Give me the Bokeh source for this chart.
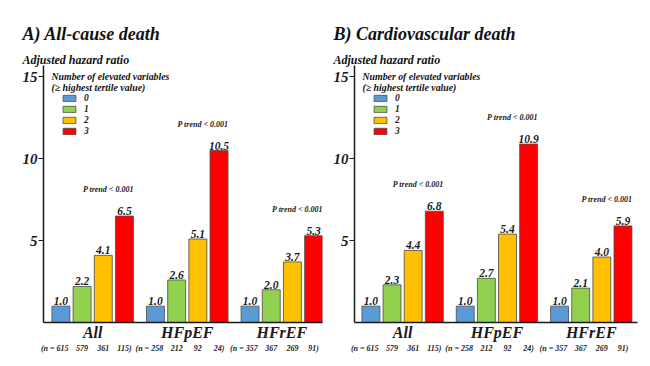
from bokeh.plotting import figure
from bokeh.models import (ColumnDataSource, FixedTicker, CustomJSTickFormatter,
                          LinearAxis, Label, Range1d, Title)
from bokeh.layouts import row
from bokeh.core.properties import value
from bokeh.embed import file_html
from bokeh.resources import INLINE

# ---------------- data ----------------
groups = ["All", "HFpEF", "HFrEF"]
levels = ["0", "1", "2", "3"]
colors = ["#5B9BD5", "#92D050", "#FFC000", "#FF0000"]

# A) All-cause death: adjusted HR by number of elevated variables
A_HR_0 = [1.0, 1.0, 1.0]
A_HR_1 = [2.2, 2.6, 2.0]
A_HR_2 = [4.1, 5.1, 3.7]
A_HR_3 = [6.5, 10.5, 5.3]

# B) Cardiovascular death
B_HR_0 = [1.0, 1.0, 1.0]
B_HR_1 = [2.3, 2.7, 2.1]
B_HR_2 = [4.4, 5.4, 4.0]
B_HR_3 = [6.8, 10.9, 5.9]

# patients per subgroup (0, 1, 2, 3 elevated variables)
n_all = [615, 579, 361, 115]
n_hfpef = [258, 212, 92, 24]
n_hfref = [357, 367, 269, 91]

p_trend = ["P trend < 0.001", "P trend < 0.001", "P trend < 0.001"]
y_ticks = [5, 10, 15]

FONT_NAME = "Liberation Serif"
FONT = value(FONT_NAME)
DODGE = 0.224
BAR_W = 0.19
INK = "#1a1a1a"


def n_label_list():
    out = []
    for counts in (n_all, n_hfpef, n_hfref):
        out += ["(n = %d" % counts[0], str(counts[1]), str(counts[2]), "%d)" % counts[3]]
    return out


def style_text_axis(ax, size, standoff):
    ax.major_label_text_font = FONT_NAME
    ax.major_label_text_font_style = "bold italic"
    ax.major_label_text_font_size = size
    ax.major_label_text_color = INK
    ax.major_label_standoff = standoff
    ax.minor_tick_line_color = None
    ax.minor_tick_out = 0
    ax.minor_tick_in = 0
    ax.major_tick_in = 0


def make_panel(title, series, xr, left, frame_w, right):
    top_b, frame_h, bot_b = 65, 257, 40
    p = figure(width=left + frame_w + right, height=top_b + frame_h + bot_b,
               x_range=Range1d(*xr), y_range=Range1d(0, 15.7),
               output_backend="svg", toolbar_location=None, tools="")
    p.min_border_left = left
    p.min_border_right = right
    p.min_border_top = top_b
    p.min_border_bottom = bot_b
    p.outline_line_color = None
    p.xgrid.visible = False
    p.ygrid.visible = False

    for k, vals in enumerate(series):
        xs = [g + (k - 1.5) * DODGE for g in range(len(groups))]
        src = ColumnDataSource(dict(x=xs, top=vals,
                                    lab=["%.1f" % v for v in vals]))
        p.vbar(x="x", top="top", width=BAR_W, bottom=0, source=src,
               fill_color=colors[k], line_color="#4a4a4a", line_width=0.8,
               legend_label=levels[k])
        p.text(x="x", y="top", text="lab", source=src, text_align="center",
               text_baseline="bottom", y_offset=-1, text_font=FONT,
               text_font_style="bold italic", text_font_size="11.5px",
               text_color=INK)

    # p-trend annotations above each group's tallest bar
    reds = series[3]
    psrc = ColumnDataSource(dict(x=[g + 0.165 for g in range(len(groups))],
                                 y=[v + 1.6 for v in reds], t=p_trend))
    p.text(x="x", y="y", text="t", source=psrc, text_align="center",
           text_baseline="middle", text_font=FONT, text_font_style="bold italic",
           text_font_size="8px", text_color=INK)

    # y axis
    ya = p.yaxis[0]
    ya.ticker = FixedTicker(ticks=y_ticks)
    ya.axis_line_color = INK
    ya.axis_line_width = 1.5
    ya.major_tick_line_color = INK
    ya.major_tick_line_width = 1.2
    ya.major_tick_out = 5
    style_text_axis(ya, "15px", 1)

    # category axis
    xa = p.xaxis[0]
    xa.ticker = FixedTicker(ticks=list(range(len(groups))))
    xa.formatter = CustomJSTickFormatter(args=dict(labels=groups),
                                         code="return labels[Math.round(tick)];")
    xa.axis_line_color = INK
    xa.axis_line_width = 1.5
    xa.major_tick_line_color = None
    xa.major_tick_out = 0
    style_text_axis(xa, "16px", 1)

    # n-count axis (first label of each group nudged left, as in the original)
    nticks = [g + (k - 1.5) * DODGE - (0.065 if k == 0 else 0.0)
              for g in range(len(groups)) for k in range(4)]
    na = LinearAxis(ticker=FixedTicker(ticks=nticks),
                    formatter=CustomJSTickFormatter(args=dict(labels=n_label_list()),
                                                    code="return labels[index];"))
    na.axis_line_color = None
    na.major_tick_line_color = None
    na.major_tick_out = 0
    style_text_axis(na, "8px", 0)
    p.add_layout(na, "below")

    # legend
    lg = p.legend[0]
    lg.location = (18, 186)
    lg.padding = 0
    lg.margin = 0
    lg.spacing = 0
    lg.glyph_width = 16
    lg.glyph_height = 8
    lg.label_height = 11
    lg.label_standoff = 7
    lg.border_line_color = None
    lg.background_fill_alpha = 0
    lg.label_text_font = FONT_NAME
    lg.label_text_font_style = "bold italic"
    lg.label_text_font_size = "9.5px"
    lg.label_text_color = INK

    def lab(txt, x, y, size):
        p.add_layout(Label(x=x, y=y, x_units="screen", y_units="screen", text=txt,
                           text_font=FONT_NAME, text_font_style="bold italic",
                           text_font_size=size, text_baseline="middle",
                           text_align="left", text_color="#111111"))

    lab("Number of elevated variables", 8, 246, "9.8px")
    lab("(\u2265 highest tertile value)", 8, 235, "9.8px")

    sub = Title(text="Adjusted hazard ratio", align="left", offset=-21, standoff=-3,
                text_font=FONT_NAME, text_font_style="bold italic",
                text_font_size="12px", text_color="#111111")
    p.add_layout(sub, "above")
    main = Title(text=title, align="left", offset=-21, standoff=17,
                 text_font=FONT_NAME, text_font_style="bold italic",
                 text_font_size="18px", text_color="#111111")
    p.add_layout(main, "above")
    return p


pa = make_panel("A) All-cause death", [A_HR_0, A_HR_1, A_HR_2, A_HR_3],
                (-0.52, 2.43), 43, 279, 6)
pb = make_panel("B) Cardiovascular death", [B_HR_0, B_HR_1, B_HR_2, B_HR_3],
                (-0.51, 2.49), 26, 283, 5)

layout = row(pa, pb, spacing=0)
open("out.html", "w").write(file_html(layout, INLINE))
